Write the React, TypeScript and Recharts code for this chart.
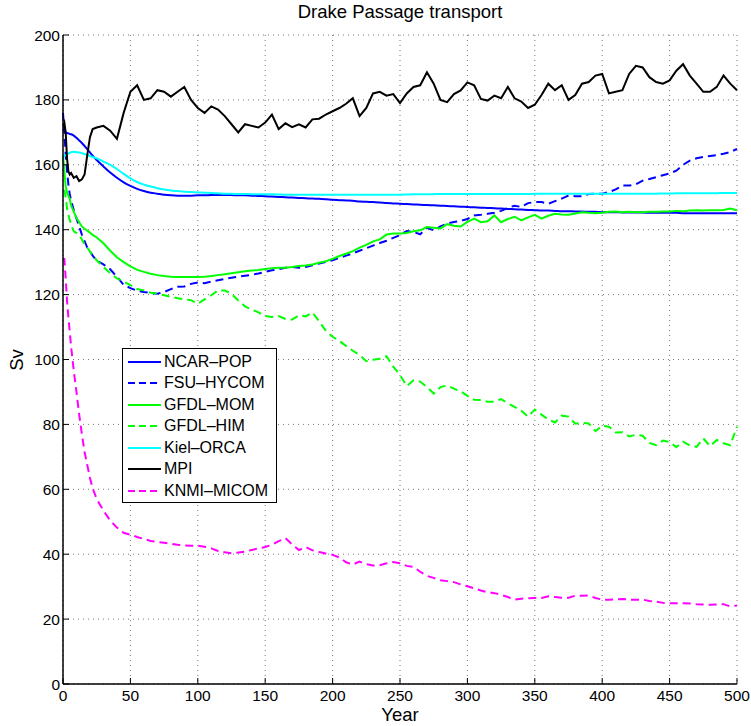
import { CartesianGrid, Line, LineChart, XAxis, YAxis } from "recharts";

// model year of each sample (dense at the start where transports drop fast)
const years = [
  0, 1, 2, 3, 4, 5, 6, 8, 10, 12, 14, 16, 18, 20, 22,
  25, 30, 35, 40, 45, 50, 55, 60, 65, 70,
  75, 80, 85, 90, 95, 100, 105, 110, 115, 120,
  125, 130, 135, 140, 145, 150, 155, 160, 165, 170,
  175, 180, 185, 190, 195, 200, 205, 210, 215, 220,
  225, 230, 235, 240, 245, 250, 255, 260, 265, 270,
  275, 280, 285, 290, 295, 300, 305, 310, 315, 320,
  325, 330, 335, 340, 345, 350, 355, 360, 365, 370,
  375, 380, 385, 390, 395, 400, 405, 410, 415, 420,
  425, 430, 435, 440, 445, 450, 455, 460, 465, 470,
  475, 480, 485, 490, 495, 500,
];

const ncarPop = [
  171, 170.5, 170, 169.8, 169.7, 169.5, 169.4, 169, 168.3, 167.5, 166.7, 165.8, 164.8, 163.8, 162.8,
  161.5, 159.5, 157.6, 156, 154.6, 153.5, 152.6, 151.9, 151.4, 151.1,
  150.8, 150.6, 150.5, 150.5, 150.5, 150.6, 150.6, 150.7, 150.7, 150.7,
  150.7, 150.6, 150.6, 150.5, 150.4, 150.3, 150.2, 150.1, 150, 149.9,
  149.8, 149.7, 149.6, 149.5, 149.4, 149.2, 149.1, 149, 148.9, 148.7,
  148.6, 148.5, 148.4, 148.2, 148.1, 148, 147.9, 147.8, 147.7, 147.6,
  147.5, 147.4, 147.3, 147.2, 147.1, 147, 146.9, 146.8, 146.7, 146.6,
  146.5, 146.4, 146.3, 146.2, 146.1, 146, 145.9, 145.9, 145.8, 145.7,
  145.7, 145.6, 145.6, 145.5, 145.5, 145.4, 145.4, 145.4, 145.3, 145.3,
  145.3, 145.3, 145.2, 145.2, 145.2, 145.2, 145.2, 145.1, 145.1, 145.1,
  145.1, 145.1, 145.1, 145.1, 145.1, 145.1,
];

const fsuHycom = [
  176, 170, 163, 158, 154, 151, 149, 146, 143.5, 141, 138.5, 136.5, 134.5, 133.3, 132,
  130.5, 129.3, 127.8, 125.5, 123, 122, 121.2, 120.8, 120.5, 120.3,
  120.8, 121.7, 122.4, 122.5, 123.3, 123.7, 123.5, 124, 124.4, 124.8,
  125.2, 125.5, 125.8, 126.1, 126.5, 127, 127.5, 127.8, 128.3, 128.5,
  128.3, 128.5, 129, 129.6, 130.1, 130.6, 131.3, 132, 132.7, 133.5,
  134.3, 135.1, 135.9, 136.6, 137.5, 138.3, 139.6, 139.3, 138.6, 140.6,
  139.8, 141, 141.9, 142.4, 142.7, 143.3, 144.4, 144.6, 144.9, 145.2,
  145.8, 146.7, 147.4, 147, 148.2, 148.5, 148.5, 148, 148.8, 149.6,
  150.5, 150.3, 150.3, 151, 151.1, 151.1, 151.6, 152.4, 153.6, 153.6,
  154, 155.1, 155.6, 156.2, 156.8, 157.3, 158.2, 160, 161.3, 162,
  162.4, 162.7, 163, 163.4, 163.9, 164.9,
];

const gfdlMom = [
  163, 158, 153.5, 151.5, 150.5, 149.5, 147.5, 145.5, 143.6, 142.3, 141, 140.3, 139.7, 139.1, 138.4,
  137.6, 135.8, 133.5, 131.5, 130, 128.7, 127.6, 127, 126.4, 126,
  125.7, 125.5, 125.4, 125.4, 125.4, 125.4, 125.5, 125.7, 126, 126.3,
  126.6, 126.9, 127.2, 127.4, 127.6, 127.9, 128.1, 128.3, 128.3, 128.5,
  128.8, 129, 129.3, 129.8, 130.3, 131, 131.9, 132.6, 133.4, 134.5,
  135.3, 136.4, 137, 138.5, 138.8, 138.8, 139, 139.5, 139.8, 140.8,
  140.6, 140.4, 141.7, 141.2, 141, 142.4, 143.4, 142.3, 142.6, 144.4,
  142.3, 143.3, 144, 142.9, 143.8, 144.6, 143.4, 144.3, 144.9, 144.7,
  144.6, 145, 145.4, 145.2, 145.1, 145.2, 145.5, 145.6, 145.4, 145.5,
  145.4, 145.4, 145.5, 145.5, 145.6, 145.6, 145.8, 145.7, 145.9, 146,
  145.9, 146, 146, 146.1, 146.5, 146,
];

const gfdlHim = [
  152, 152, 150, 146.5, 144.5, 143, 141.5, 139.5, 139, 138.5, 137, 135.5, 134.5, 133.3, 132,
  130.6, 128.5, 126.6, 125, 124, 122.9, 121.7, 121.3, 120.6, 120.3,
  119.8, 119.3, 118.9, 118.5, 118.3, 117.2, 118.5, 119.8, 121.3, 121.3,
  120.2, 118.2, 116.4, 115.4, 114.5, 113.4, 113.1, 113.4, 112.5, 112.3,
  113.6, 113.3, 114.5, 111.8, 108.8, 107, 105.7, 104.2, 102.7, 101.4,
  99.5, 99.9, 100.2, 101, 97.8, 95.2, 91.8, 93.6, 93.2, 91.5,
  89.5, 91.5, 92, 91, 90.2, 88.8, 87.6, 87.5, 87, 87,
  87.8, 86.5, 85.4, 84.2, 82.4, 84.6, 83, 81.5, 80.6, 82.7,
  82.4, 80.2, 80.5, 80.3, 77.9, 79.6, 79.3, 77.5, 77.6, 76.3,
  76.8, 76.5, 74.3, 73.6, 75, 74.6, 73, 74.7, 73.5, 73.1,
  75.7, 73.3, 75.2, 74.2, 73.6, 79.3,
];

const kielOrca = [
  162.8, 162.8, 163, 163.2, 163.5, 163.7, 163.9, 164, 163.9, 163.8, 163.6, 163.3, 163, 162.7, 162.4,
  162, 161, 160, 158.7, 157.2, 155.8, 154.7, 153.9, 153.3, 152.8,
  152.4, 152.1, 151.9, 151.7, 151.6, 151.5, 151.4, 151.3, 151.2, 151.1,
  151.05, 151, 151, 150.95, 150.9, 150.9, 150.9, 150.85, 150.8, 150.8,
  150.8, 150.8, 150.8, 150.8, 150.8, 150.8, 150.8, 150.8, 150.8, 150.8,
  150.8, 150.8, 150.8, 150.8, 150.8, 150.8, 150.85, 150.9, 150.9, 150.9,
  150.95, 151, 151, 151, 151, 151, 151, 151, 151, 151,
  151, 151, 151, 151, 151, 151.05, 151.05, 151.05, 151.1, 151.1,
  151.1, 151.1, 151.1, 151.1, 151.1, 151.1, 151.1, 151.1, 151.1, 151.1,
  151.1, 151.1, 151.1, 151.1, 151.15, 151.15, 151.2, 151.2, 151.2, 151.2,
  151.2, 151.25, 151.25, 151.3, 151.3, 151.3,
];

const mpi = [
  172, 173, 170, 162, 158, 157, 157.5, 156, 156.5, 155, 155.5, 157, 163, 168.5, 171,
  171.5, 172, 170.5, 168, 176, 182.5, 184.5, 180, 180.5, 183,
  182.5, 181, 182.5, 184, 180, 177.5, 176, 178, 177, 175,
  172.5, 170, 172.5, 172, 171.5, 173, 175.5, 171, 172.8, 171.6,
  172.5, 171.5, 174, 174.2, 175.5, 176.5, 177.5, 178.8, 180.5, 175,
  177.5, 182, 182.5, 181.3, 181.8, 179, 182, 184, 184.5, 188.5,
  185, 180, 179.3, 181.8, 182.9, 185.4, 184.5, 180.3, 179.8, 181.3,
  180.5, 184, 180.5, 179.5, 177.5, 178.5, 181.5, 185, 183, 184.5,
  180, 181.5, 185, 185.5, 187.5, 188, 182, 182.5, 183, 188,
  190.5, 190, 187, 185.5, 185, 186, 189, 191, 187.5, 185,
  182.5, 182.5, 184, 187.5, 185, 183,
];

const knmiMicom = [
  131, 131, 125, 118, 113, 108.5, 104, 96.5, 90, 83, 77, 71.5, 67.5, 63.5, 60.3,
  57, 53.4, 50.4, 48.2, 46.6, 46, 45.3, 44.7, 44.1, 43.8,
  43.5, 43.2, 42.9, 42.7, 42.6, 42.6, 42.3, 41.8, 41, 40.6,
  40.3, 40.5, 40.8, 41.3, 41.8, 42.2, 42.9, 44, 45, 43,
  41.3, 42.2, 41.2, 40.7, 40.2, 39.8, 39, 37.5, 36.8, 37.7,
  36.9, 36.5, 36.6, 37.2, 37.6, 37.2, 36.4, 36.1, 34.6, 33.3,
  32.7, 32, 31.7, 31.4, 30.7, 30.1, 29.5, 28.8, 28.3, 28,
  27.5, 26.8, 26, 26.3, 26.4, 26.5, 26.5, 27, 26.8, 26.6,
  26.6, 27.2, 27.2, 27.3, 26.5, 26, 26, 26.1, 26.2, 26,
  26, 26, 25.6, 25.4, 25, 24.9, 24.9, 24.9, 24.8, 24.6,
  24.5, 24.4, 24.5, 24.6, 23.9, 24.2,
];

const xTicks = [0, 50, 100, 150, 200, 250, 300, 350, 400, 450, 500];
const yTicks = [0, 20, 40, 60, 80, 100, 120, 140, 160, 180, 200];

const series = [
  { key: "ncarPop", name: "NCAR\u2013POP", values: ncarPop, color: "#0000ff", dashed: false, smooth: true },
  { key: "fsuHycom", name: "FSU\u2013HYCOM", values: fsuHycom, color: "#0000ff", dashed: true, smooth: false },
  { key: "gfdlMom", name: "GFDL\u2013MOM", values: gfdlMom, color: "#00ff00", dashed: false, smooth: false },
  { key: "gfdlHim", name: "GFDL\u2013HIM", values: gfdlHim, color: "#00ff00", dashed: true, smooth: false },
  { key: "kielOrca", name: "Kiel\u2013ORCA", values: kielOrca, color: "#00ffff", dashed: false, smooth: true },
  { key: "mpi", name: "MPI", values: mpi, color: "#000000", dashed: false, smooth: false },
  { key: "knmiMicom", name: "KNMI\u2013MICOM", values: knmiMicom, color: "#ff00ff", dashed: true, smooth: false },
];

const data = years.map((year, i) => {
  const row: Record<string, number> = { year };
  series.forEach((s) => {
    row[s.key] = s.values[i];
  });
  return row;
});

const FONT = "'Liberation Sans', Arial, Helvetica, sans-serif";
const DASH = "8 5";

// tickSize 1 + tickMargin 2 => the plot edge sits 3px from the tick anchor
function LeftTick({ x, y, payload }: any) {
  const edge = x + 3;
  return (
    <g>
      <line x1={edge} x2={edge + 6} y1={y} y2={y} stroke="#000" />
      <text x={x} y={y} dy={5.5} textAnchor="end" fontSize={15.5} fontFamily={FONT} fill="#000">
        {payload.value}
      </text>
    </g>
  );
}

function BottomTick({ x, y, payload }: any) {
  const edge = y - 3;
  return (
    <g>
      <line x1={x} x2={x} y1={edge} y2={edge - 6} stroke="#000" />
      <text x={x} y={y} dy={14} textAnchor="middle" fontSize={15.5} fontFamily={FONT} fill="#000">
        {payload.value}
      </text>
    </g>
  );
}

function TopTick({ x, y }: any) {
  const edge = y + 3;
  return <line x1={x} x2={x} y1={edge} y2={edge + 6} stroke="#000" />;
}

function RightTick({ x, y }: any) {
  const edge = x - 3;
  return <line x1={edge} x2={edge - 6} y1={y} y2={y} stroke="#000" />;
}

function LegendBox() {
  return (
    <div
      style={{
        position: "absolute",
        left: 122,
        top: 348,
        width: 155,
        height: 155,
        boxSizing: "border-box",
        border: "1.5px solid #000",
        background: "#fff",
        paddingTop: 2,
        fontFamily: FONT,
        fontSize: 16,
      }}
    >
      {series.map((s) => (
        <div key={s.key} style={{ display: "flex", alignItems: "center", height: 21.5 }}>
          <svg width={40} height={10} style={{ flex: "none" }}>
            <line
              x1={5}
              x2={38}
              y1={5}
              y2={5}
              stroke={s.color}
              strokeWidth={2}
              strokeDasharray={s.dashed ? "7 4" : undefined}
            />
          </svg>
          <span style={{ marginLeft: 1, whiteSpace: "nowrap" }}>{s.name}</span>
        </div>
      ))}
    </div>
  );
}

export default function App() {
  return (
    <div style={{ position: "absolute", left: 0, top: 0, width: 751, height: 726, background: "#fff" }}>
      <LineChart width={751} height={726} data={data} margin={{ top: 35, right: 14, bottom: 12, left: 23 }}>
        <CartesianGrid stroke="#777" strokeDasharray="1 4" />
        <XAxis
          dataKey="year"
          type="number"
          domain={[0, 500]}
          ticks={xTicks}
          height={30}
          tickSize={1}
          tickMargin={2}
          tickLine={false}
          tick={<BottomTick />}
          axisLine={{ stroke: "#000", strokeWidth: 1.5 }}
        />
        <XAxis
          xAxisId="top"
          orientation="top"
          type="number"
          domain={[0, 500]}
          ticks={xTicks}
          height={0}
          tickSize={1}
          tickMargin={2}
          tickLine={false}
          tick={<TopTick />}
          axisLine={{ stroke: "#000", strokeWidth: 1.5 }}
        />
        <YAxis
          type="number"
          domain={[0, 200]}
          ticks={yTicks}
          width={40}
          tickSize={1}
          tickMargin={2}
          tickLine={false}
          tick={<LeftTick />}
          axisLine={{ stroke: "#000", strokeWidth: 1.5 }}
        />
        <YAxis
          yAxisId="right"
          orientation="right"
          type="number"
          domain={[0, 200]}
          ticks={yTicks}
          width={0}
          tickSize={1}
          tickMargin={2}
          tickLine={false}
          tick={<RightTick />}
          axisLine={{ stroke: "#000", strokeWidth: 1.5 }}
        />
        {series.map((s) => (
          <Line
            key={s.key}
            dataKey={s.key}
            name={s.name}
            type={s.smooth ? "monotone" : "linear"}
            stroke={s.color}
            strokeWidth={2}
            strokeDasharray={s.dashed ? DASH : undefined}
            dot={false}
            activeDot={false}
            isAnimationActive={false}
          />
        ))}
      </LineChart>
      <div
        style={{
          position: "absolute",
          left: 63,
          width: 674,
          top: 1,
          textAlign: "center",
          fontFamily: FONT,
          fontSize: 18.5,
        }}
      >
        Drake Passage transport
      </div>
      <div
        style={{
          position: "absolute",
          left: 63,
          width: 674,
          top: 704,
          textAlign: "center",
          fontFamily: FONT,
          fontSize: 18.5,
        }}
      >
        Year
      </div>
      <div
        style={{
          position: "absolute",
          left: 17,
          top: 360,
          transform: "translate(-50%, -50%) rotate(-90deg)",
          fontFamily: FONT,
          fontSize: 18.5,
        }}
      >
        Sv
      </div>
      <LegendBox />
    </div>
  );
}
